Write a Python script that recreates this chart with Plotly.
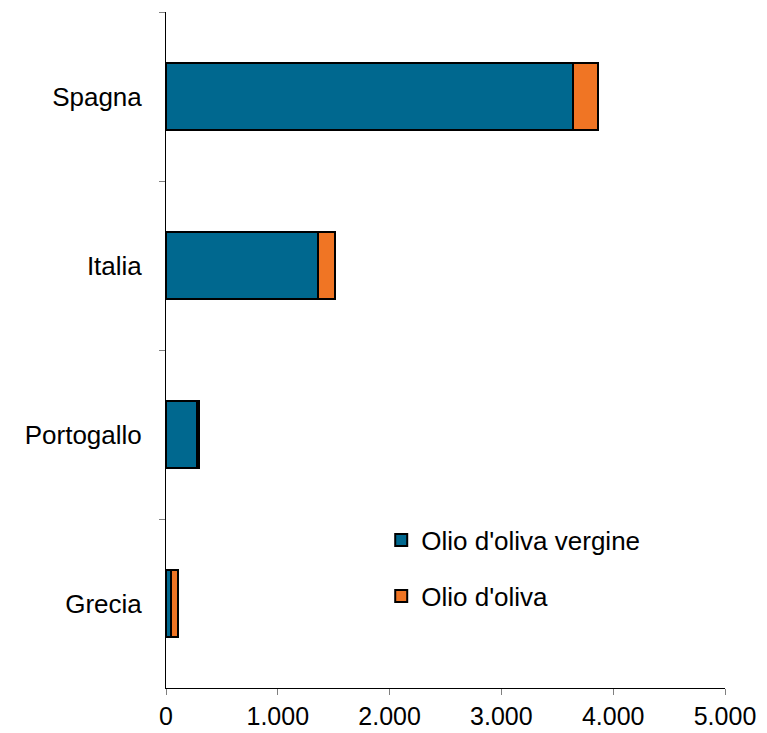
import plotly.graph_objects as go

categories = ["Spagna", "Italia", "Portogallo", "Grecia"]
vergine = [3638, 1357, 275, 42]
oliva = [229, 155, 20, 68]
series_names = ["Olio d'oliva vergine", "Olio d'oliva"]
x_ticks = [0, 1000, 2000, 3000, 4000, 5000]

fig = go.Figure()
fig.add_trace(go.Bar(
    y=categories, x=vergine, orientation="h", name=series_names[0],
    marker=dict(color="#00688f", line=dict(color="#000000", width=2)),
    legend="legend", showlegend=True,
))
fig.add_trace(go.Bar(
    y=categories, x=oliva, orientation="h", name=series_names[1],
    marker=dict(color="#f07524", line=dict(color="#000000", width=2)),
    legend="legend2", showlegend=True,
))

legend_style = dict(xanchor="left", yanchor="top", font=dict(size=26),
                    bgcolor="rgba(0,0,0,0)", visible=True)

fig.update_layout(
    showlegend=True,
    barmode="stack",
    bargap=0.6,
    width=759, height=725,
    margin=dict(l=158, r=42, t=4, b=45),
    plot_bgcolor="white", paper_bgcolor="white",
    separators=",.",
    font=dict(family="Liberation Sans, Arial, sans-serif", size=25, color="#000000"),
    legend=dict(x=0.385, y=0.2535, **legend_style),
    legend2=dict(x=0.385, y=0.1707, **legend_style),
    xaxis=dict(
        range=[0, 5000], tickvals=x_ticks, tickformat=",d",
        showgrid=False, zeroline=False, automargin=False,
        showline=True, linecolor="#000000", linewidth=1,
        ticks="outside", ticklen=6, tickcolor="#808080",
        tickfont=dict(size=25),
    ),
    yaxis=dict(
        autorange="reversed", showgrid=False, zeroline=False, automargin=False,
        showline=True, linecolor="#000000", linewidth=1,
        ticks="outside", ticklen=6, tickcolor="#808080",
        tickson="boundaries", ticklabelstandoff=18,
        tickfont=dict(size=26),
    ),
)

fig.write_html("out.html")
